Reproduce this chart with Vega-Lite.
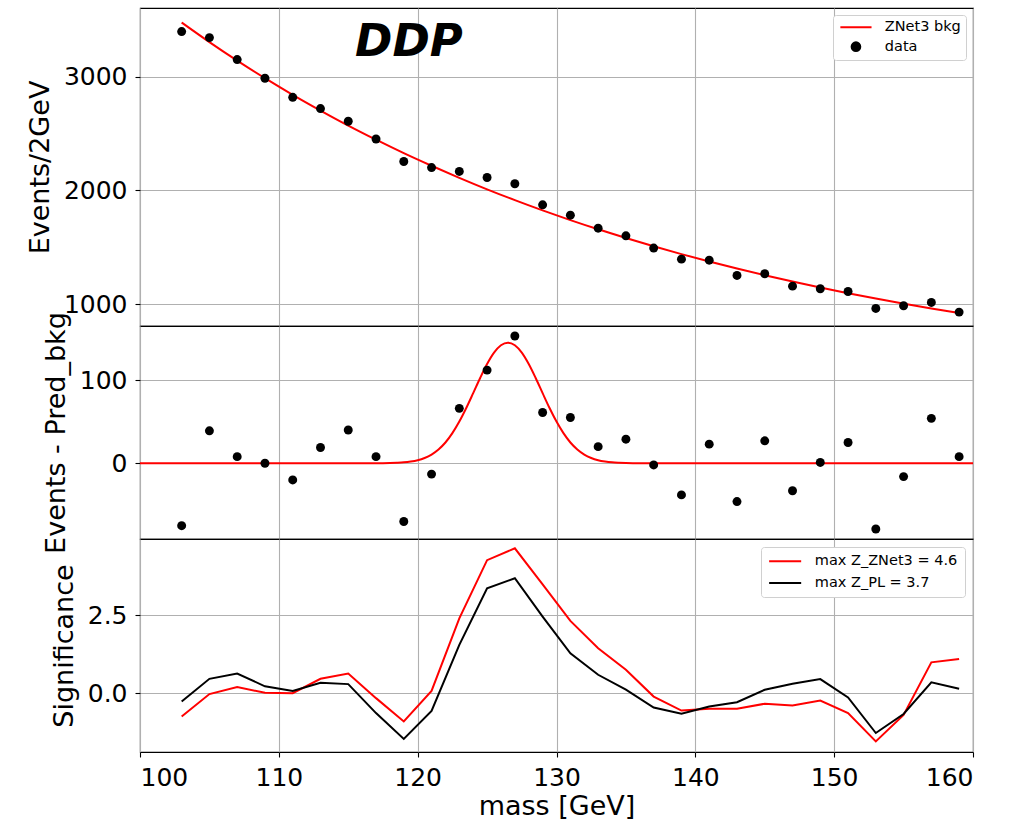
{
  "$schema": "https://vega.github.io/schema/vega-lite/v6.json",
  "padding": {"left": 25, "top": 7, "right": 5, "bottom": 5},
  "spacing": 0,
  "bounds": "flush",
  "resolve": {"scale": {"color": "independent", "y": "independent"}, "legend": {"color": "independent"}},
  "config": {
    "font": "DejaVu Sans",
    "view": {"stroke": "#000000", "strokeWidth": 1.1},
    "axis": {
      "labelFont": "DejaVu Sans", "labelFontSize": 25, "labelColor": "#000000",
      "titleFont": "DejaVu Sans", "titleFontSize": 27, "titleFontWeight": "normal", "titleColor": "#000000",
      "tickColor": "#000000", "tickSize": 5, "tickWidth": 1.1,
      "gridColor": "#b0b0b0", "gridWidth": 1.1, "domain": false,
      "labelPadding": 8, "titlePadding": 9
    },
    "legend": {"labelFont": "DejaVu Sans", "labelFontSize": 14.5, "labelColor": "#000000"}
  },
  "datasets": {
    "bins": [
      {"mass": 103, "data": 3395, "bkg": 3475, "resid": -75, "zn": -0.75, "zpl": -0.27},
      {"mass": 105, "data": 3342, "bkg": 3303, "resid": 39, "zn": -0.03, "zpl": 0.46},
      {"mass": 107, "data": 3149, "bkg": 3140, "resid": 8, "zn": 0.20, "zpl": 0.63},
      {"mass": 109, "data": 2985, "bkg": 2986, "resid": 0, "zn": 0.01, "zpl": 0.22},
      {"mass": 111, "data": 2818, "bkg": 2840, "resid": -20, "zn": 0.00, "zpl": 0.07},
      {"mass": 113, "data": 2719, "bkg": 2702, "resid": 19, "zn": 0.46, "zpl": 0.33},
      {"mass": 115, "data": 2608, "bkg": 2570, "resid": 40, "zn": 0.63, "zpl": 0.29},
      {"mass": 117, "data": 2452, "bkg": 2446, "resid": 8, "zn": -0.16, "zpl": -0.64},
      {"mass": 119, "data": 2254, "bkg": 2328, "resid": -70, "zn": -0.91, "zpl": -1.47},
      {"mass": 121, "data": 2201, "bkg": 2217, "resid": -13, "zn": 0.07, "zpl": -0.57},
      {"mass": 123, "data": 2167, "bkg": 2111, "resid": 66, "zn": 2.40, "zpl": 1.55},
      {"mass": 125, "data": 2114, "bkg": 2010, "resid": 112, "zn": 4.27, "zpl": 3.37},
      {"mass": 127, "data": 2059, "bkg": 1915, "resid": 153, "zn": 4.65, "zpl": 3.69},
      {"mass": 129, "data": 1874, "bkg": 1825, "resid": 61, "zn": 3.49, "zpl": 2.46},
      {"mass": 131, "data": 1783, "bkg": 1740, "resid": 55, "zn": 2.32, "zpl": 1.28},
      {"mass": 133, "data": 1669, "bkg": 1659, "resid": 20, "zn": 1.44, "zpl": 0.59},
      {"mass": 135, "data": 1602, "bkg": 1583, "resid": 29, "zn": 0.75, "zpl": 0.11},
      {"mass": 137, "data": 1494, "bkg": 1510, "resid": -2, "zn": -0.11, "zpl": -0.46},
      {"mass": 139, "data": 1397, "bkg": 1441, "resid": -38, "zn": -0.56, "zpl": -0.66},
      {"mass": 141, "data": 1388, "bkg": 1376, "resid": 23, "zn": -0.50, "zpl": -0.43},
      {"mass": 143, "data": 1254, "bkg": 1315, "resid": -46, "zn": -0.50, "zpl": -0.29},
      {"mass": 145, "data": 1269, "bkg": 1256, "resid": 27, "zn": -0.34, "zpl": 0.11},
      {"mass": 147, "data": 1160, "bkg": 1201, "resid": -33, "zn": -0.40, "zpl": 0.30},
      {"mass": 149, "data": 1137, "bkg": 1148, "resid": 1, "zn": -0.24, "zpl": 0.45},
      {"mass": 151, "data": 1113, "bkg": 1098, "resid": 25, "zn": -0.64, "zpl": -0.14},
      {"mass": 153, "data": 964, "bkg": 1051, "resid": -79, "zn": -1.55, "zpl": -1.28},
      {"mass": 155, "data": 988, "bkg": 1007, "resid": -16, "zn": -0.70, "zpl": -0.67},
      {"mass": 157, "data": 1017, "bkg": 964, "resid": 54, "zn": 0.99, "zpl": 0.35},
      {"mass": 159, "data": 932, "bkg": 924, "resid": 8, "zn": 1.10, "zpl": 0.14}
    ],
    "signal": [
      {"mass": 100, "sig": 0}, {"mass": 115, "sig": 0}, {"mass": 117, "sig": 0.05},
      {"mass": 117.5, "sig": 0.1}, {"mass": 118, "sig": 0.3}, {"mass": 118.5, "sig": 0.6},
      {"mass": 119, "sig": 1.1}, {"mass": 119.5, "sig": 2.1}, {"mass": 120, "sig": 3.7},
      {"mass": 120.5, "sig": 6.4}, {"mass": 121, "sig": 10.5}, {"mass": 121.5, "sig": 16.6},
      {"mass": 122, "sig": 25.0}, {"mass": 122.5, "sig": 36.2}, {"mass": 123, "sig": 50.1},
      {"mass": 123.5, "sig": 66.4}, {"mass": 124, "sig": 84.3}, {"mass": 124.5, "sig": 102.5},
      {"mass": 125, "sig": 119.3}, {"mass": 125.5, "sig": 133.0}, {"mass": 126, "sig": 141.9},
      {"mass": 126.5, "sig": 145.0}, {"mass": 127, "sig": 141.9}, {"mass": 127.5, "sig": 133.0},
      {"mass": 128, "sig": 119.3}, {"mass": 128.5, "sig": 102.5}, {"mass": 129, "sig": 84.3},
      {"mass": 129.5, "sig": 66.4}, {"mass": 130, "sig": 50.1}, {"mass": 130.5, "sig": 36.2},
      {"mass": 131, "sig": 25.0}, {"mass": 131.5, "sig": 16.6}, {"mass": 132, "sig": 10.5},
      {"mass": 132.5, "sig": 6.4}, {"mass": 133, "sig": 3.7}, {"mass": 133.5, "sig": 2.1},
      {"mass": 134, "sig": 1.1}, {"mass": 134.5, "sig": 0.6}, {"mass": 135, "sig": 0.3},
      {"mass": 135.5, "sig": 0.1}, {"mass": 136, "sig": 0.05}, {"mass": 138, "sig": 0},
      {"mass": 160, "sig": 0}
    ]
  },
  "vconcat": [
    {
      "width": 833,
      "height": 318,
      "data": {"name": "bins"},
      "layer": [
        {
          "mark": {"type": "line", "strokeWidth": 2, "interpolate": "monotone"},
          "encoding": {
            "x": {"field": "mass", "type": "quantitative", "scale": {"domain": [100, 160], "nice": false},
                  "axis": {"labels": false, "ticks": false, "title": null, "grid": true, "values": [100, 110, 120, 130, 140, 150, 160], "minExtent": 0, "maxExtent": 0}},
            "y": {"field": "bkg", "type": "quantitative", "scale": {"domain": [810, 3602], "nice": false, "zero": false},
                  "axis": {"title": "Events/2GeV", "values": [1000, 2000, 3000], "format": "d"}},
            "color": {
              "datum": "ZNet3 bkg",
              "scale": {"domain": ["ZNet3 bkg", "data"], "range": ["#ff0000", "#000000"]},
              "legend": {
                "title": null, "orient": "top-right", "offset": 7, "padding": 5,
                "strokeColor": "#d0d0d0", "fillColor": "#ffffff", "cornerRadius": 3,
                "symbolSize": 75, "symbolOffset": 10.7, "labelOffset": 21.6, "rowPadding": 3.4,
                "encode": {
                  "symbols": {
                    "update": {
                      "shape": {"signal": "datum.value === 'data' ? 'circle' : 'M-3.6,0L3.6,0'"},
                      "size": {"value": 75},
                      "fill": {"signal": "datum.value === 'data' ? '#000000' : 'transparent'"},
                      "stroke": {"signal": "datum.value === 'data' ? 'transparent' : '#ff0000'"},
                      "strokeWidth": {"value": 2},
                      "opacity": {"value": 1}
                    }
                  }
                }
              }
            }
          }
        },
        {
          "mark": {"type": "point", "filled": true, "size": 80, "opacity": 1},
          "encoding": {
            "x": {"field": "mass", "type": "quantitative"},
            "y": {"field": "data", "type": "quantitative"},
            "color": {"datum": "data"}
          }
        },
        {
          "data": {"values": [{"label": "DDP"}]},
          "mark": {"type": "text", "fontSize": 45, "fontWeight": "bold", "fontStyle": "italic", "font": "DejaVu Sans", "align": "center", "baseline": "alphabetic", "color": "#000000"},
          "encoding": {
            "x": {"datum": 119.37},
            "y": {"datum": 3180},
            "text": {"field": "label"}
          }
        }
      ]
    },
    {
      "width": 833,
      "height": 213,
      "layer": [
        {
          "data": {"name": "signal"},
          "mark": {"type": "line", "color": "#ff0000", "strokeWidth": 2, "interpolate": "monotone"},
          "encoding": {
            "x": {"field": "mass", "type": "quantitative", "scale": {"domain": [100, 160], "nice": false},
                  "axis": {"labels": false, "ticks": false, "title": null, "grid": true, "values": [100, 110, 120, 130, 140, 150, 160], "minExtent": 0, "maxExtent": 0}},
            "y": {"field": "sig", "type": "quantitative", "scale": {"domain": [-91, 165], "nice": false},
                  "axis": {"title": "Events - Pred_bkg", "values": [0, 100]}}
          }
        },
        {
          "data": {"name": "bins"},
          "mark": {"type": "point", "filled": true, "size": 80, "color": "#000000", "opacity": 1},
          "encoding": {
            "x": {"field": "mass", "type": "quantitative"},
            "y": {"field": "resid", "type": "quantitative"}
          }
        }
      ]
    },
    {
      "width": 833,
      "height": 213,
      "data": {"name": "bins"},
      "transform": [{"fold": ["zn", "zpl"], "as": ["series", "Z"]}],
      "mark": {"type": "line", "strokeWidth": 2},
      "encoding": {
        "x": {"field": "mass", "type": "quantitative", "scale": {"domain": [100, 160], "nice": false},
              "axis": {"title": "mass [GeV]", "grid": true, "values": [100, 110, 120, 130, 140, 150, 160], "titlePadding": 3}},
        "y": {"field": "Z", "type": "quantitative", "scale": {"domain": [-1.89, 4.95], "nice": false},
              "axis": {"title": "Significance", "values": [0, 2.5], "format": ".1f"}},
        "color": {
          "field": "series", "type": "nominal",
          "scale": {"domain": ["zn", "zpl"], "range": ["#ff0000", "#000000"]},
          "legend": {
            "title": null, "orient": "top-right", "offset": 8, "padding": 7,
            "strokeColor": "#d0d0d0", "fillColor": "#ffffff", "cornerRadius": 3,
            "symbolType": "M-3.7,0L3.7,0", "symbolStrokeWidth": 2, "symbolSize": 75, "symbolOffset": 9.9,
            "labelOffset": 22.4, "rowPadding": 6.7,
            "labelExpr": "datum.value === 'zn' ? 'max Z_ZNet3 = 4.6' : 'max Z_PL = 3.7'"
          }
        }
      }
    }
  ]
}
